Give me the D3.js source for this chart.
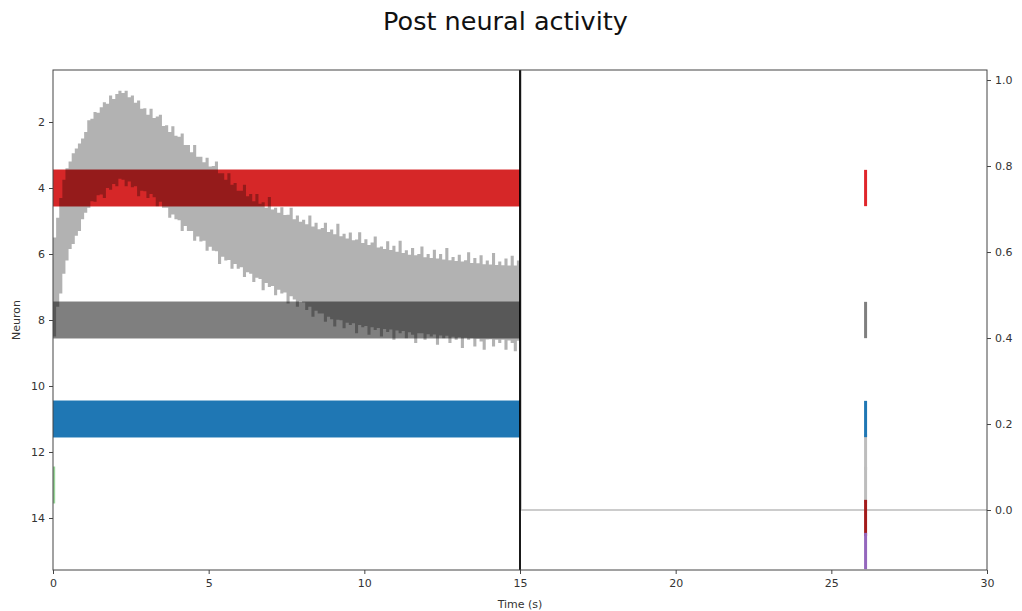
<!DOCTYPE html>
<html><head><meta charset="utf-8">
<script src="https://cdn.jsdelivr.net/npm/d3@7/dist/d3.min.js"></script>
<style>body{margin:0;background:#fff}svg{display:block}text{font-family:"DejaVu Sans",sans-serif}</style>
</head><body>
<svg id="c" width="1022" height="611"></svg>
<script>
// ---- data ----
const title = "Post neural activity";
const xTicks = [0, 5, 10, 15, 20, 25, 30];
const yTicksLeft = [2, 4, 6, 8, 10, 12, 14];
const yTicksRight = [0.0, 0.2, 0.4, 0.6, 0.8, 1.0];
// dense spiking bands (neuron, start time, end time, colour)
const bandNeurons = [4, 8, 11, 13];
const bandStart = [0, 0, 0, 0];
const bandEnd = [15, 15, 15, 0.07];
const bandColors = ["#d62728", "#7f7f7f", "#1f77b4", "#98d598"];
// single events at t = 26.1
const eventTime = 26.1;
const eventNeurons = [12, 13, 11, 14, 15, 4, 8];
const eventColors = ["#bdbdbd", "#bdbdbd", "#1f77b4", "#a31b1b", "#9467bd", "#e0262b", "#7f7f7f"];
// activity envelope (neuron units), sampled every 0.1 s from 0 to 15 s
const sampleStep = 0.1;
const upper = [
5.5,4.9,4.3,3.75,3.4,3.2,2.95,2.8,2.65,2.5,
2.3,1.95,1.9,1.7,1.72,1.55,1.4,1.45,1.2,1.3,
1.15,1.05,1.12,1.05,1.25,1.2,1.42,1.35,1.6,1.58,
1.78,1.6,1.88,1.83,1.78,2.12,2.1,2.3,2.13,2.42,
2.45,2.35,2.7,2.7,2.92,2.7,3.05,3.05,3.22,3.08,
3.35,3.33,3.2,3.55,3.55,3.75,3.55,3.9,3.85,4.08,
4.08,3.9,4.25,4.18,4.4,4.18,4.48,4.43,4.6,4.27,
4.65,4.6,4.75,4.58,4.82,4.81,4.6,4.95,4.83,5.02,
4.96,5.1,4.83,5.17,5.05,5.25,5.21,5.05,5.33,5.26,
5.4,5.08,5.46,5.39,5.53,5.35,5.58,5.56,5.34,5.67,
5.55,5.73,5.65,5.47,5.8,5.77,5.85,5.61,5.88,5.75,
5.93,5.6,5.97,5.89,6.02,5.82,6.04,6.0,5.77,6.1,
6.0,6.12,5.87,6.14,6.0,6.17,5.82,6.19,6.09,6.21,
6.02,6.23,6.19,5.95,6.27,6.12,6.28,6.04,6.31,6.2,
6.32,5.97,6.33,6.23,6.34,6.14,6.35,6.05,6.35,6.2,
6.35];
const lower = [
8.5,7.6,7.2,6.6,6.2,5.85,5.7,5.45,5.3,4.95,
4.75,4.6,4.4,4.42,4.22,4.2,4.3,4.0,4.05,3.88,
3.95,3.72,3.75,3.95,3.8,3.98,3.95,4.25,4.08,4.1,
4.3,4.18,4.28,4.55,4.42,4.6,4.6,4.9,4.8,4.95,
4.98,5.3,5.15,5.3,5.3,5.6,5.47,5.62,5.6,5.9,
5.78,5.9,5.92,6.3,6.08,6.2,6.18,6.45,6.3,6.45,
6.4,6.7,6.55,6.6,6.85,6.72,6.76,7.1,6.88,7.0,
6.97,7.25,7.08,7.2,7.17,7.5,7.28,7.38,7.6,7.43,
7.47,7.7,7.6,7.9,7.72,7.8,7.8,8.05,7.9,7.98,
8.2,7.99,8.01,8.25,8.08,8.15,8.1,8.4,8.15,8.22,
8.18,8.45,8.22,8.3,8.24,8.5,8.27,8.36,8.29,8.6,
8.32,8.4,8.33,8.55,8.37,8.45,8.7,8.4,8.4,8.6,
8.43,8.5,8.44,8.75,8.47,8.55,8.48,8.7,8.51,8.6,
8.52,8.85,8.54,8.6,8.55,8.8,8.57,8.65,8.9,8.59,
8.58,8.8,8.6,8.7,8.6,8.9,8.62,8.7,8.95,8.63,
8.65];
// right-axis trace after the stimulus
const traceT = [15.03, 15.03, 30];
const traceV = [1.2, 0.0, 0.0];
const stimTime = 15;

// ---- layout ----
const svg = d3.select("#c");
const L = 53, R = 987, T = 70, B = 570;
const x = d3.scaleLinear().domain([0, 30]).range([L, R]);
const yN = d3.scaleLinear().domain([0.424, 15.576]).range([T, B]);
const yR = d3.scaleLinear().domain([-0.1395, 1.0233]).range([B, T]);

svg.append("defs").append("clipPath").attr("id", "clip")
  .append("rect").attr("x", L).attr("y", T).attr("width", R - L).attr("height", B - T);
const g = svg.append("g").attr("clip-path", "url(#clip)");

const half = 0.56;
// bands
g.selectAll("rect.band").data(bandNeurons).join("rect").attr("class", "band")
  .attr("x", (d, i) => x(bandStart[i]))
  .attr("width", (d, i) => x(bandEnd[i]) - x(bandStart[i]))
  .attr("y", d => yN(d - half))
  .attr("height", d => yN(d + half) - yN(d - half))
  .attr("fill", (d, i) => bandColors[i]);

// activity envelope
const times = d3.range(upper.length).map(i => +(i * sampleStep).toFixed(2));
const area = d3.area().curve(d3.curveStepAfter)
  .x((d, i) => x(times[i]))
  .y0((d, i) => yN(lower[i]))
  .y1((d, i) => yN(upper[i]));
g.append("path").datum(upper).attr("d", area).attr("fill", "#000").attr("fill-opacity", 0.3);

// right-axis trace
const line = d3.line().x((d, i) => x(traceT[i])).y(d => yR(d));
g.append("path").datum(traceV).attr("d", line).attr("fill", "none")
  .attr("stroke", "#bcbcbc").attr("stroke-width", 1.6);

// stimulus line
g.append("line").attr("x1", x(stimTime)).attr("x2", x(stimTime)).attr("y1", T).attr("y2", B)
  .attr("stroke", "#000").attr("stroke-width", 1.8);

// events
g.selectAll("line.ev").data(eventNeurons).join("line").attr("class", "ev")
  .attr("x1", x(eventTime)).attr("x2", x(eventTime))
  .attr("y1", d => yN(d - 0.55)).attr("y2", d => yN(d + 0.55))
  .attr("stroke", (d, i) => eventColors[i]).attr("stroke-width", 3);

// axes
const fmt = d3.format(".1f");
const ax = svg.append("g").attr("transform", `translate(0,${B})`)
  .call(d3.axisBottom(x).tickValues(xTicks).tickSize(4).tickPadding(5).tickFormat(d3.format("d")));
const ayl = svg.append("g").attr("transform", `translate(${L},0)`)
  .call(d3.axisLeft(yN).tickValues(yTicksLeft).tickSize(4).tickPadding(4).tickFormat(d3.format("d")));
const ayr = svg.append("g").attr("transform", `translate(${R},0)`)
  .call(d3.axisRight(yR).tickValues(yTicksRight).tickSize(4).tickPadding(4).tickFormat(fmt));
[ax, ayl, ayr].forEach(a => {
  a.select(".domain").remove();
  a.selectAll("line").attr("stroke", "#444");
  a.selectAll("text").attr("font-size", 11).attr("fill", "#333").style("font-family", "DejaVu Sans");
});

// frame
svg.append("rect").attr("x", L).attr("y", T).attr("width", R - L).attr("height", B - T)
  .attr("fill", "none").attr("stroke", "#444").attr("stroke-width", 1);

// labels
svg.append("text").attr("x", 505.5).attr("y", 30).attr("text-anchor", "middle")
  .attr("font-size", 25.5).attr("fill", "#111").text(title);
svg.append("text").attr("x", (L + R) / 2).attr("y", 608).attr("text-anchor", "middle")
  .attr("font-size", 11).attr("fill", "#333").text("Time (s)");
svg.append("text").attr("transform", `translate(20,${(T + B) / 2}) rotate(-90)`)
  .attr("text-anchor", "middle").attr("font-size", 11).attr("fill", "#333").text("Neuron");
</script>
</body></html>
